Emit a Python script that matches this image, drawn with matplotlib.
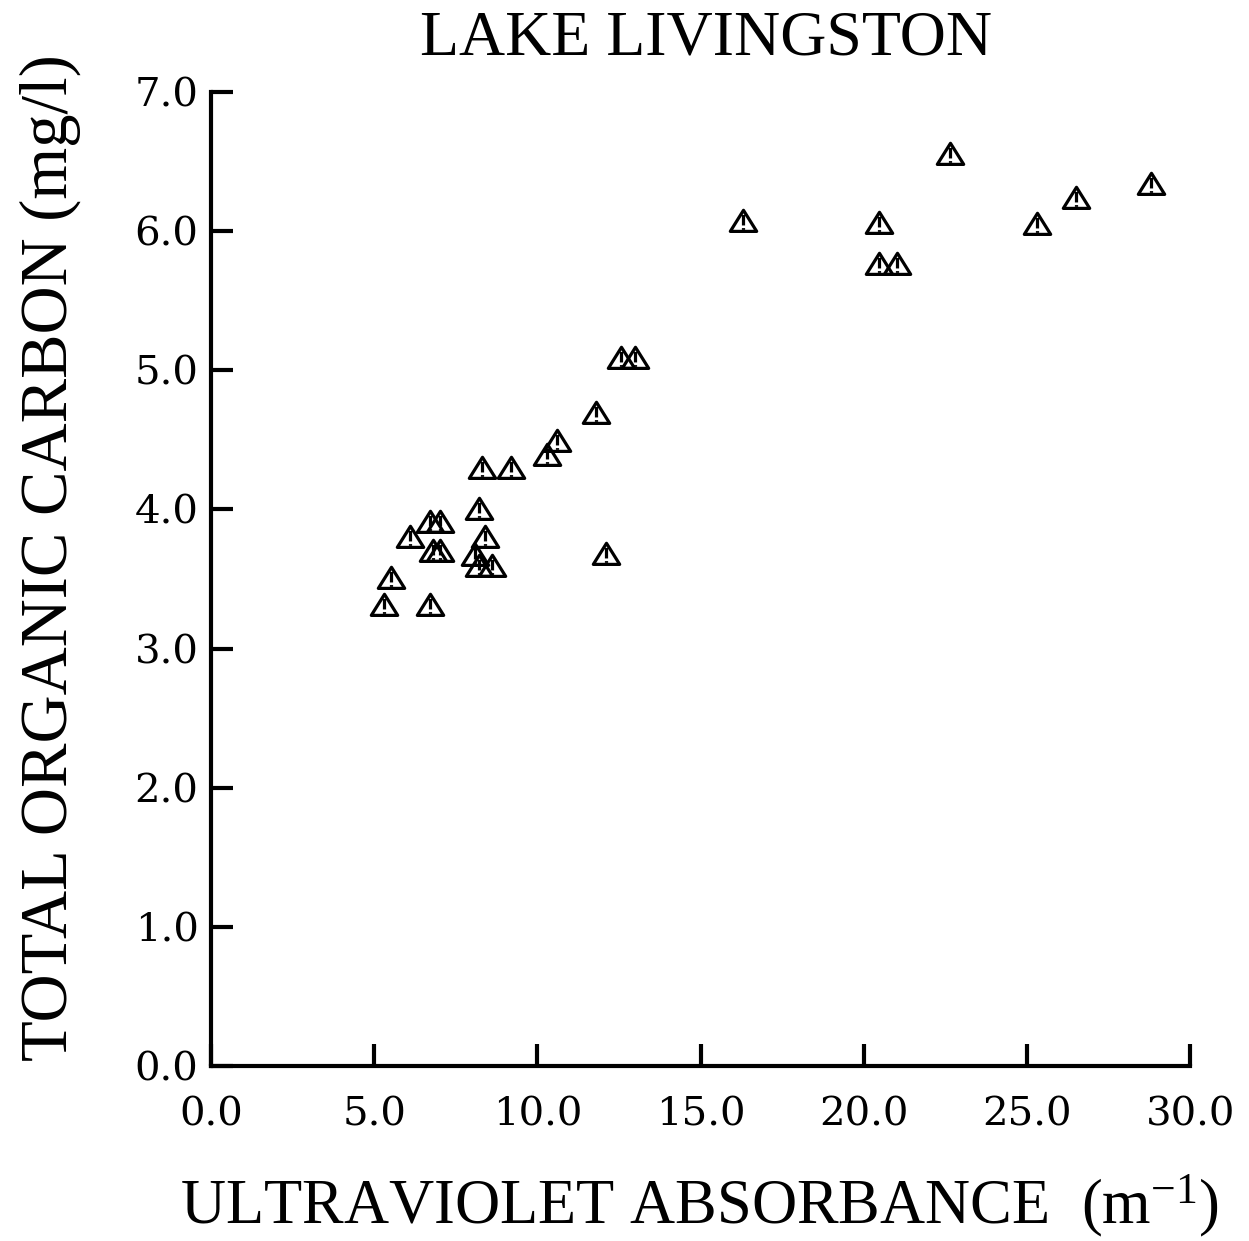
import matplotlib
matplotlib.use("Agg")
import matplotlib.pyplot as plt
from matplotlib.path import Path

# UV absorbance (1/m) and total organic carbon (mg/l) samples
uv_absorbance = [5.3, 5.5, 6.7, 6.1, 6.7, 7.0, 6.8, 7.0, 8.3, 9.2,
                 8.2, 8.4, 8.1, 8.2, 8.6, 10.3, 10.6, 11.8, 12.1, 12.55,
                 12.98, 16.3, 20.45, 20.45, 21.0, 22.65, 25.3, 26.5, 28.8]
toc = [3.31, 3.51, 3.31, 3.80, 3.91, 3.91, 3.70, 3.70, 4.30, 4.30,
       4.00, 3.80, 3.67, 3.59, 3.59, 4.39, 4.49, 4.69, 3.68, 5.09,
       5.09, 6.07, 6.06, 5.76, 5.76, 6.55, 6.05, 6.24, 6.34]

x_ticks = [0, 5, 10, 15, 20, 25, 30]
x_ticklabels = ["0.0", "5.0", "10.0", "15.0", "20.0", "25.0", "30.0"]
y_ticks = [0, 1, 2, 3, 4, 5, 6, 7]
y_ticklabels = ["0.0", "1.0", "2.0", "3.0", "4.0", "5.0", "6.0", "7.0"]

# open triangle with a "!" stroke inside
tri_verts = [(-1.0, -0.75), (1.0, -0.75), (0.0, 0.85), (-1.0, -0.75),
             (0.0, 0.5), (0.0, -0.3), (0.0, -0.5), (0.0, -0.62)]
tri_codes = [Path.MOVETO, Path.LINETO, Path.LINETO, Path.CLOSEPOLY,
             Path.MOVETO, Path.LINETO, Path.MOVETO, Path.LINETO]
warn_marker = Path(tri_verts, tri_codes)

plt.rcParams['mathtext.default'] = 'regular'

fig = plt.figure(figsize=(12.49, 12.41), dpi=100)
ax = fig.add_axes([0.169, 0.141, 0.784, 0.785])

ax.plot(uv_absorbance, toc, linestyle='none', marker=warn_marker,
        markersize=19, markerfacecolor='none', markeredgecolor='black',
        markeredgewidth=2.3, clip_on=False)

ax.set_xlim(0, 30)
ax.set_ylim(0, 7)
ax.spines['top'].set_visible(False)
ax.spines['right'].set_visible(False)
for s in ('left', 'bottom'):
    ax.spines[s].set_linewidth(3)

ax.set_xticks(x_ticks)
ax.set_xticklabels(x_ticklabels, family='DejaVu Serif', fontsize=29)
ax.set_yticks(y_ticks)
ax.set_yticklabels(y_ticklabels, family='DejaVu Serif', fontsize=29)
ax.tick_params(axis='both', direction='in', length=16, width=3)
ax.tick_params(axis='x', pad=22)
ax.tick_params(axis='y', pad=9)

fig.text(0.565, 0.9557, "LAKE LIVINGSTON", family='Liberation Serif',
         fontsize=46, ha='center', va='baseline')
fig.text(0.56, 0.014, "ULTRAVIOLET ABSORBANCE  (m$^{-1}$)",
         family='Liberation Serif', fontsize=45, ha='center', va='baseline')
fig.text(0.040, 0.551, "TOTAL ORGANIC CARBON (mg/l)",
         family='Liberation Serif', fontsize=48, ha='center', va='center',
         rotation=90)

fig.savefig("out.png", dpi=100, facecolor='white')
